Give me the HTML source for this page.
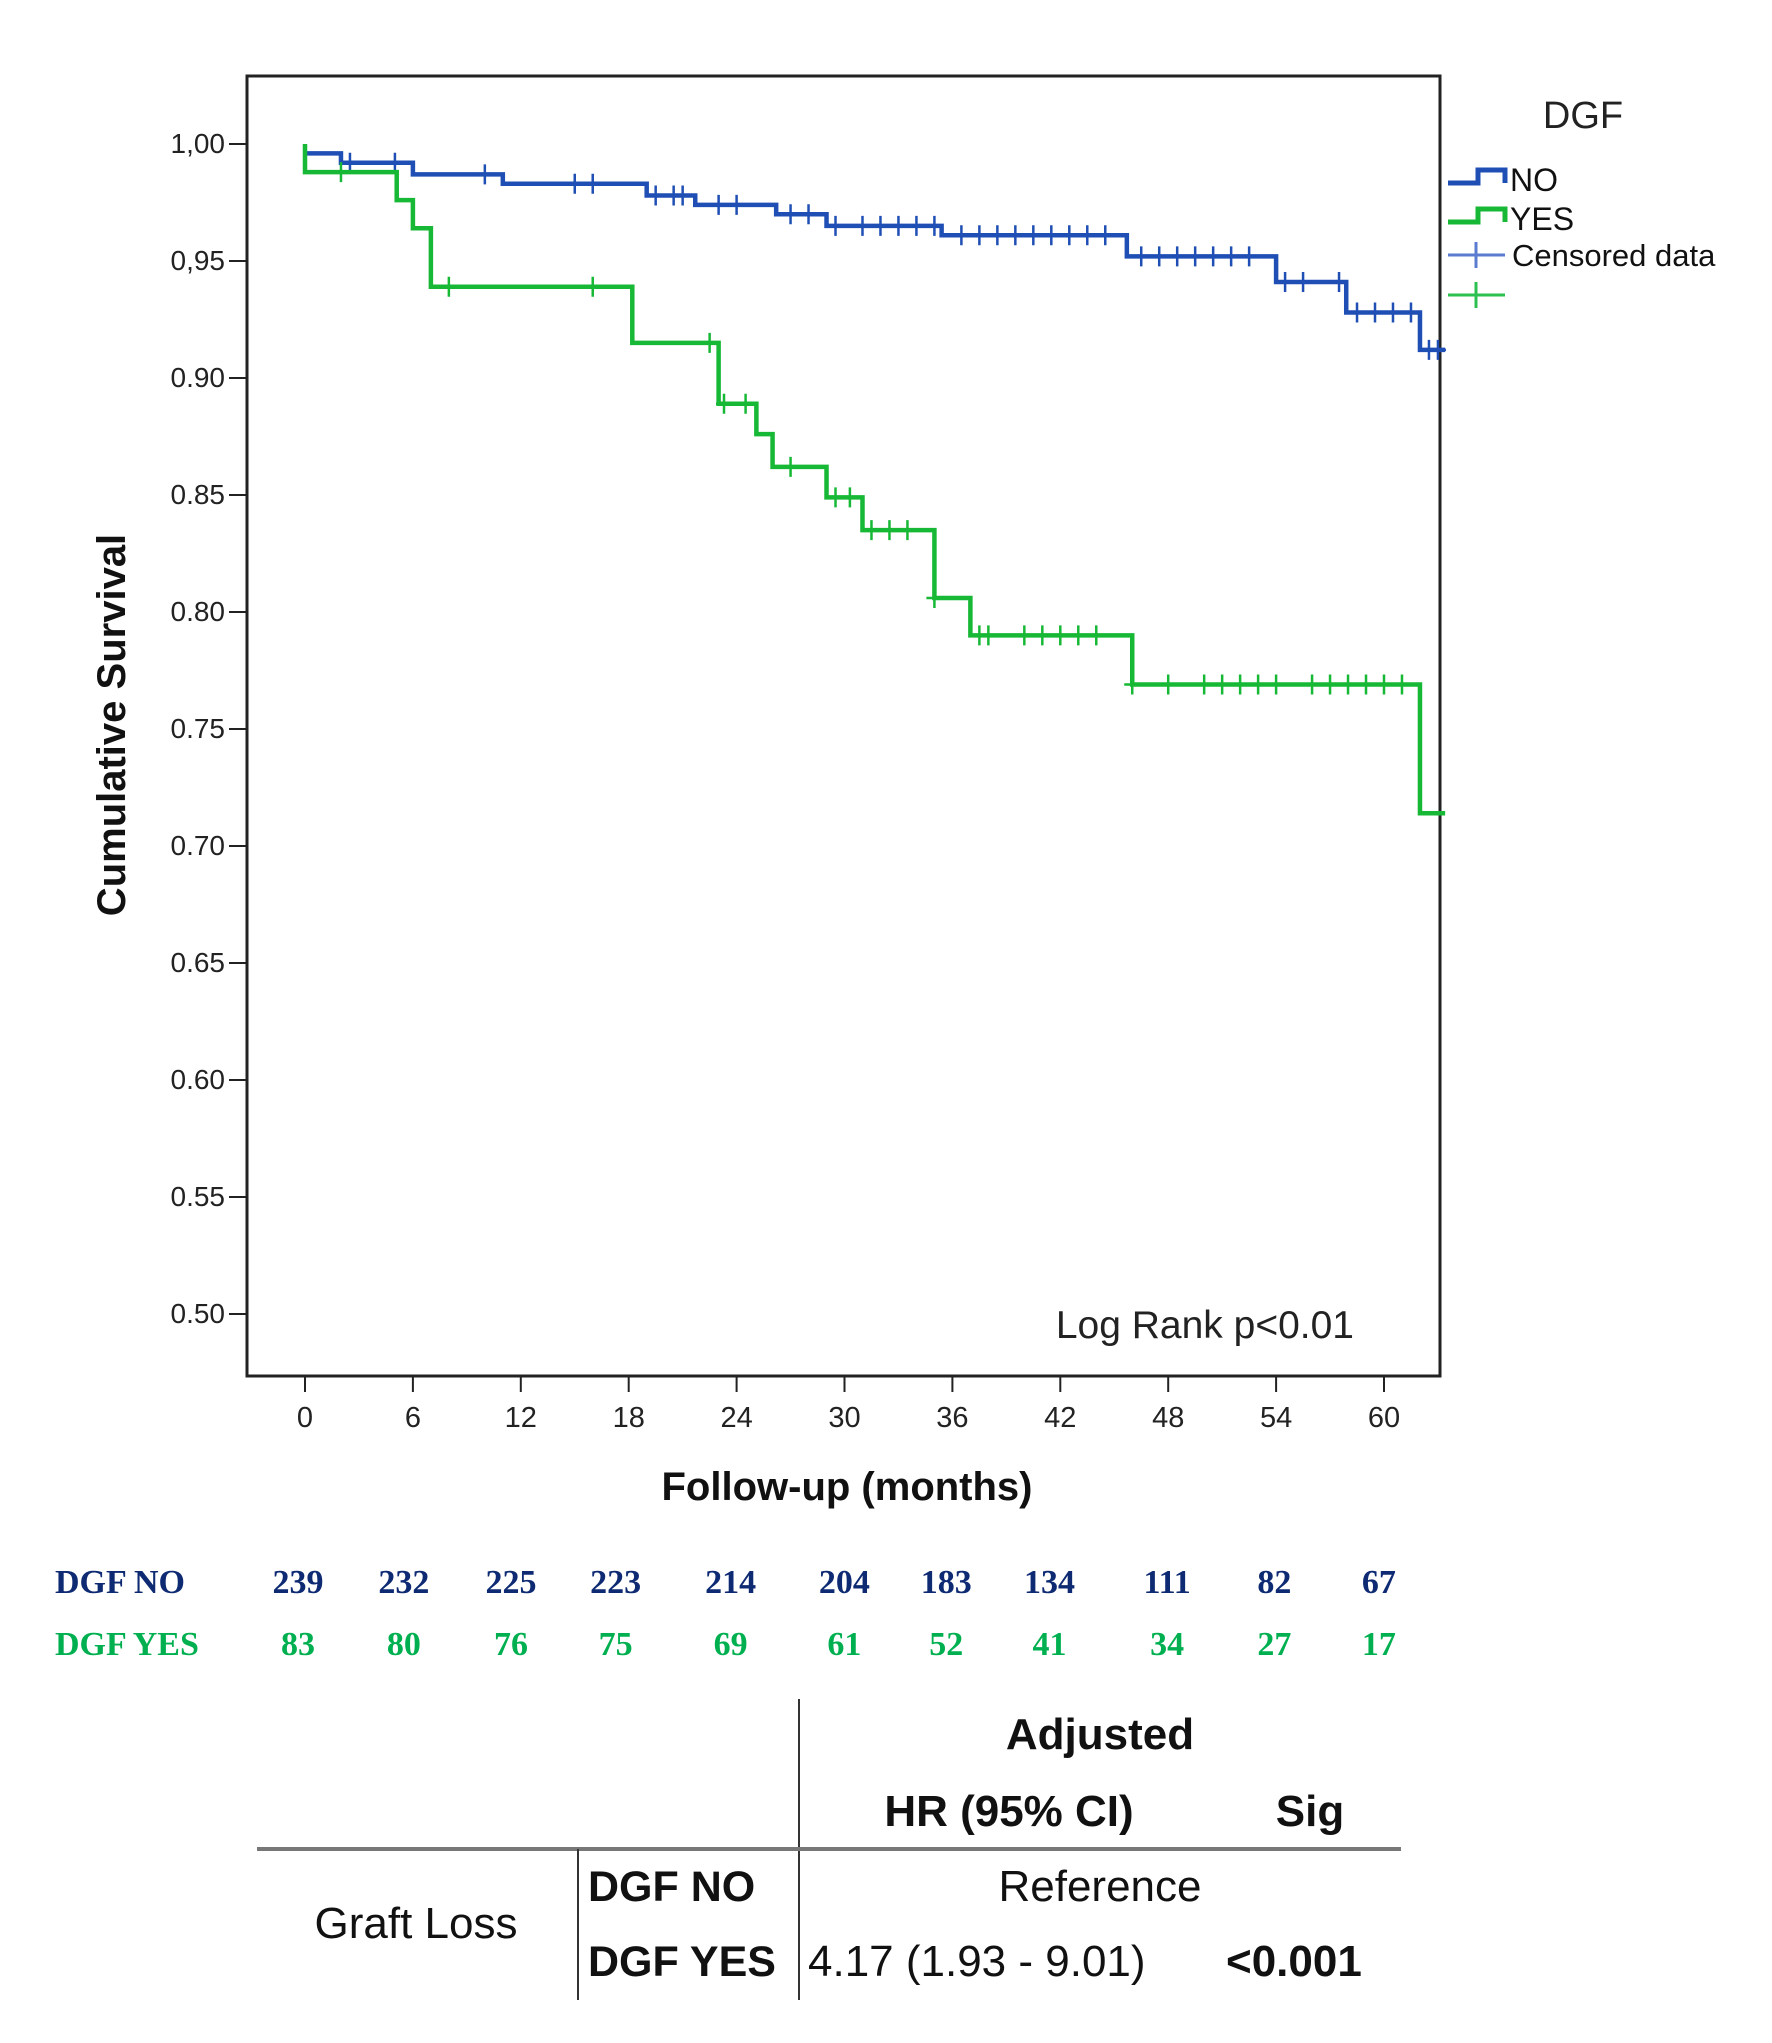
<!DOCTYPE html>
<html><head><meta charset="utf-8"><style>
body{margin:0;background:#fff;width:1772px;height:2043px;overflow:hidden}
svg{display:block}
</style></head><body>
<svg id="c" width="1772" height="2043" xmlns="http://www.w3.org/2000/svg" font-family="Liberation Sans, sans-serif">
<rect x="247" y="76" width="1193" height="1300" fill="none" stroke="#222" stroke-width="3"/>
<g id="yax"></g>
<g id="xax"></g>
<text x="125" y="725" transform="rotate(-90 125 725)" text-anchor="middle" font-size="40" font-weight="bold" fill="#111">Cumulative Survival</text>
<text x="847" y="1500" text-anchor="middle" font-size="40" font-weight="bold" fill="#111">Follow-up (months)</text>
<text x="1354" y="1338" text-anchor="end" font-size="39" fill="#222">Log Rank p&lt;0.01</text>
<g id="series"></g>
<g>
<text x="1583" y="128" text-anchor="middle" font-size="38" fill="#222">DGF</text>
<path d="M1448 183 H1478 V170 H1505 V183" fill="none" stroke="#1f4fb4" stroke-width="5"/>
<text x="1510" y="191" font-size="32" fill="#111">NO</text>
<path d="M1448 222 H1478 V209 H1505 V222" fill="none" stroke="#17b835" stroke-width="5"/>
<text x="1510" y="230" font-size="32" fill="#111">YES</text>
<path d="M1448 255 H1505 M1476 242 V268" stroke="#5a7bd0" stroke-width="3"/>
<text x="1512" y="266" font-size="31" fill="#111">Censored data</text>
<path d="M1448 295 H1505 M1476 282 V308" stroke="#2cc050" stroke-width="3"/>
</g>
<g id="risk"></g>
<g font-family="Liberation Sans, sans-serif" fill="#111">
<line x1="799" y1="1699" x2="799" y2="2000" stroke="#333" stroke-width="2"/>
<line x1="257" y1="1849" x2="1401" y2="1849" stroke="#777" stroke-width="4"/>
<line x1="578" y1="1849" x2="578" y2="2000" stroke="#333" stroke-width="2"/>
<text x="1100" y="1749" text-anchor="middle" font-size="44" font-weight="bold">Adjusted</text>
<text x="1009" y="1826" text-anchor="middle" font-size="44" font-weight="bold">HR (95% CI)</text>
<text x="1310" y="1826" text-anchor="middle" font-size="44" font-weight="bold">Sig</text>
<text x="416" y="1938" text-anchor="middle" font-size="44">Graft Loss</text>
<text x="588" y="1901" font-size="43" font-weight="bold">DGF NO</text>
<text x="588" y="1976" font-size="43" font-weight="bold">DGF YES</text>
<text x="1100" y="1901" text-anchor="middle" font-size="44">Reference</text>
<text x="808" y="1976" font-size="44">4.17 (1.93 - 9.01)</text>
<text x="1226" y="1976" font-size="44" font-weight="bold">&lt;0.001</text>
</g>
</svg>
<script>
const yTicks=[1.00,0.95,0.90,0.85,0.80,0.75,0.70,0.65,0.60,0.55,0.50];
const yLabels=["1,00","0,95","0.90","0.85","0.80","0.75","0.70","0.65","0.60","0.55","0.50"];
const xTicks=[0,6,12,18,24,30,36,42,48,54,60];
const noTimes=[0,2,6,11,19,21.7,26.2,29,35.4,45.7,54,57.9,62,63.4];
const noSurv=[0.996,0.992,0.987,0.983,0.978,0.974,0.970,0.965,0.961,0.952,0.941,0.928,0.912,0.912];
const noCens=[2.5,5,10,15,16,19.5,20.5,21,23,24,27,28,29.5,31,32,33,34,35,36.5,37.5,38.5,39.5,40.5,41.5,42.5,43.5,44.5,46.5,47.5,48.5,49.5,50.5,51.5,52.5,54.5,55.5,57.5,58.5,59.5,60.5,61.5,62.5,63];
const yesTimes=[0,5.1,6,7,18.2,23,25.1,26,29,31,35,37,46,62,63.4];
const yesSurv=[0.988,0.976,0.964,0.939,0.915,0.889,0.876,0.862,0.849,0.835,0.806,0.790,0.769,0.714,0.714];
const yesCens=[2,8,16,22.5,23.3,24.5,27,29.5,30.3,31.5,32.5,33.5,35,37.5,38,40,41,42,43,44,46,48,50,51,52,53,54,56,57,58,59,60,61];
const riskNo=[239,232,225,223,214,204,183,134,111,82,67];
const riskYes=[83,80,76,75,69,61,52,41,34,27,17];
const riskX=[228,309,391,471,559,646,724,803,893,975,1055];
const NS="http://www.w3.org/2000/svg";
const X=m=>305+m*(1384-305)/60;
const Y=v=>144+(1-v)*(1314-144)/0.5;
function mk(tag,attrs,parent){const e=document.createElementNS(NS,tag);for(const k in attrs)e.setAttribute(k,attrs[k]);parent.appendChild(e);return e;}
const yax=document.getElementById('yax');
yTicks.forEach((v,i)=>{
 const l=mk('line',{x1:229,x2:247,y1:Y(v),y2:Y(v),stroke:'#222','stroke-width':2},yax);
 
 const t=mk('text',{x:225,y:Y(v)+9,'text-anchor':'end','font-size':28,fill:'#222'},yax);
 
 t.textContent=yLabels[i];
});
const xax=document.getElementById('xax');
xTicks.forEach(m=>{
 const l=mk('line',{x1:X(m),x2:X(m),y1:1376,y2:1392,stroke:'#222','stroke-width':2},xax);
 
 const t=mk('text',{x:X(m),y:1427,'text-anchor':'middle','font-size':29,fill:'#222'},xax);
 
 t.textContent=m;
});
const ser=document.getElementById('series');
function curve(times,surv,cens,color,ccolor,name,start){
 let d='M'+X(0)+' '+Y(start)+' V'+Y(surv[0]);
 for(let i=1;i<times.length;i++){d+=' H'+X(times[i])+' V'+Y(surv[i]);}
 const p=mk('path',{d:d,fill:'none',stroke:color,'stroke-width':4.5},ser);
 
 cens.forEach(c=>{
  let k=0;while(k+1<times.length&&times[k+1]<=c)k++;
  const y=Y(surv[k]);
  const m=mk('path',{d:'M'+(X(c)-8)+' '+y+' H'+(X(c)+8)+' M'+X(c)+' '+(y-10)+' V'+(y+10),stroke:ccolor,'stroke-width':2.5},ser);
  
 });
}
curve(noTimes,noSurv,noCens,'#1f4fb4','#1f4fb4','dgf-no',0.996);
curve(yesTimes,yesSurv,yesCens,'#17b835','#17b835','dgf-yes',1.0);
const risk=document.getElementById('risk');
const s=1.307;
[['DGF NO',riskNo,'#0d2a73',1581],['DGF YES',riskYes,'#00b050',1643]].forEach(r=>{
 const lab=mk('text',{x:55,y:r[3]+12,'font-size':34,'font-weight':'bold','font-family':'Liberation Serif, serif',fill:r[2]},risk);
 
 lab.textContent=r[0];
 r[1].forEach((v,i)=>{
  const t=mk('text',{x:riskX[i]*s,y:r[3]+12,'text-anchor':'middle','font-size':34,'font-weight':'bold','font-family':'Liberation Serif, serif',fill:r[2]},risk);
  
  t.textContent=v;
 });
});
</script>
</body></html>
